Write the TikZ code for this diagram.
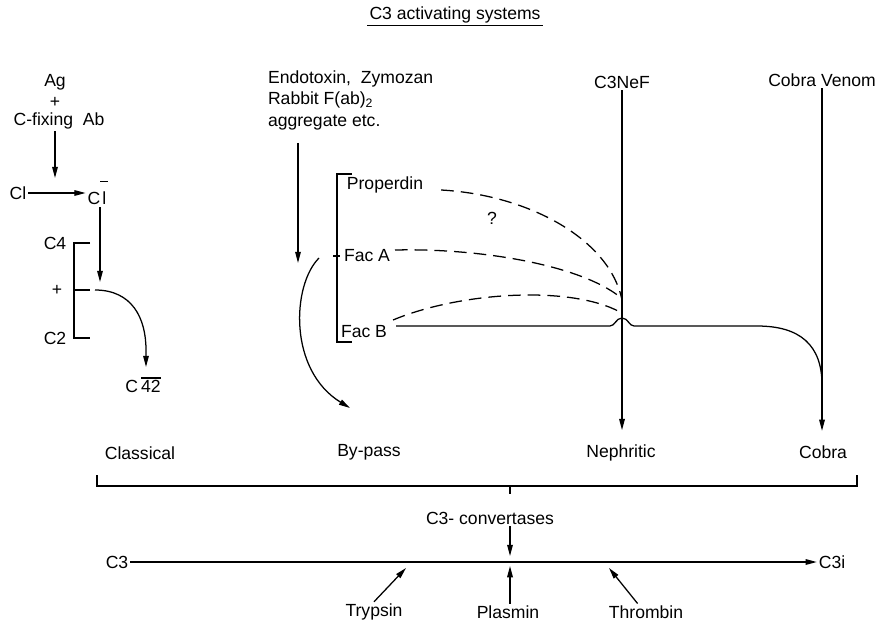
\documentclass[tikz,border=0pt]{standalone}
\usepackage{fontspec}
\setmainfont{Liberation Sans}
\usetikzlibrary{arrows.meta}

\newcommand{\ovbar}[2][1.3em]{\setbox0\hbox{#2}\rlap{\raisebox{#1}{\rule{\wd0}{0.9pt}}}\box0}

\begin{document}
\begin{tikzpicture}[x=0.025cm,y=-0.025cm,line width=0.9pt,
        lbl/.style={font=\fontsize{12.5}{15.3}\selectfont,inner sep=1pt},
        arr/.style={-{Triangle[length=8pt,width=4pt]}},
        dsh/.style={dash pattern=on 9pt off 5pt}]
        \useasboundingbox (0,0) rectangle (878,623);

        \node[lbl] (title) at (455,15) {C3 activating systems};
        \draw[line width=0.8pt] (title.south west) -- (title.south east);

        \node[lbl] (ag) at (55,82) {Ag};
        \node[lbl] (agplus) at (55,102) {+};
        \node[lbl] (cab) at (59,121) {C-fixing\ \ Ab};
        \node[lbl] (cl) at (18,193) {Cl};
        \node[lbl] (clb) at (98,193) {C\ovbar{\kern1.5pt l\kern1.5pt}};
        \coordinate (clmid) at (55,178);
        \draw[arr] (cab.south -| clmid) -- (clmid);
        \draw[arr] (cl) -- (clb);
        \node[lbl] (c4) at (55,243) {C4};
        \node[lbl] (cplus) at (57,290) {+};
        \node[lbl] (c2) at (55,338) {C2};
        \draw (90,243) -- (74,243) -- (74,338) -- (90,338) (74,290) -- (90,290);
        \coordinate (mixin) at (100,282);
        \draw[arr] (clb.south -| mixin) -- (mixin);
        \node[lbl] (c42) at (143,385) {C\,\ovbar[0.8em]{42}};
        \coordinate (c42in) at (146,367);
        \draw[arr] (95,290) .. controls (132,290) and (146,318) .. (146,350) -- (c42in);

        \node[lbl,align=left,anchor=west] (endo) at (266,100) {Endotoxin,\ \ Zymozan\\Rabbit F(ab)\textsubscript{2}\\aggregate etc.};
        \coordinate (endoin) at (298,263);
        \draw[arr] ([yshift=-8pt]endo.south -| endoin) -- (endoin);
        \coordinate (bpin) at (350,408);
        \draw[arr] (319,258) .. controls (292,285) and (288,370) .. (bpin);

        \draw (352,174) -- (337,174) -- (337,342) -- (352,342) (333,256) -- (340,256);
        \node[lbl] (prop) at (385,185) {Properdin};
        \node[lbl] (faca) at (367,256) {Fac A};
        \node[lbl] (facb) at (364,332) {Fac B};
        \node[lbl] (qm) at (492,218) {?};
        \coordinate (jn) at (622,300);
        \draw[dsh] ([shift={(16,5)}]prop.east) .. controls (530,195) and (610,240) .. (jn);
        \draw[dsh] ([shift={(3,-6)}]faca.east) .. controls (480,248) and (580,265) .. (620,297);
        \draw[dsh] ([shift={(4,-12)}]facb.east) .. controls (460,292) and (570,285) .. (620,312);
        \draw ([shift={(7,-6)}]facb.east) -- (610,326) .. controls (615,326) and (616,318) .. (622,318)
            .. controls (628,318) and (629,326) .. (634,326) -- (757,326) .. controls (800,326) and (822,345) .. (822,385);

        \node[lbl] (nef) at (622,82) {C3NeF};
        \node[lbl] (venom) at (822,80) {Cobra Venom};
        \node[lbl] (classical) at (140,453) {Classical};
        \node[lbl] (bypass) at (369,452) {By-pass};
        \node[lbl] (nephritic) at (621,453) {Nephritic};
        \node[lbl] (cobra) at (823,452) {Cobra};
        \draw[arr,shorten >=9pt] (nef) -- (nef |- nephritic.north);
        \draw[arr,shorten >=9pt] (venom) -- (venom |- cobra.north);

        \draw (97,475) -- (97,486) -- (857,486) -- (857,475) (510,486) -- (510,494);
        \node[lbl] (conv) at (490,518) {C3- convertases};
        \coordinate (convin) at (510,556);
        \draw[arr] (conv.south -| convin) -- (convin);
        \node[lbl] (c3) at (117,562) {C3};
        \node[lbl] (c3i) at (832,562) {C3i};
        \draw[arr] (c3) -- (c3i);

        \node[lbl] (tryp) at (374,612) {Trypsin};
        \node[lbl] (plas) at (508,612) {Plasmin};
        \node[lbl] (thromb) at (646,612) {Thrombin};
        \coordinate (trypin) at (406,568);
        \coordinate (plasin) at (510,566);
        \coordinate (thrombin) at (609,568);
        \draw[arr] (tryp.north) -- (trypin);
        \draw[arr] (plas.north -| plasin) -- (plasin);
        \draw[arr] ([xshift=-6pt]thromb.north) -- (thrombin);
    \end{tikzpicture}
\end{document}
